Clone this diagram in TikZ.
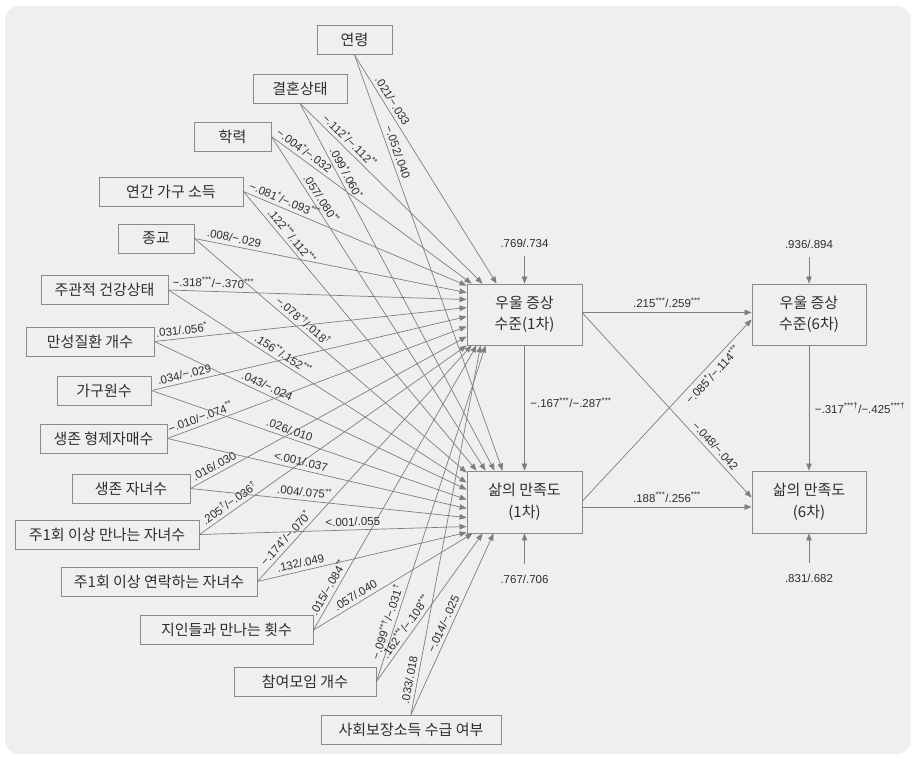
\documentclass[tikz,border=0pt]{standalone}
\usepackage{fontspec}
\setmainfont{Liberation Sans}
\newfontfamily\kr{Noto Sans CJK KR}
\usetikzlibrary{arrows.meta}

\definecolor{bggray}{HTML}{EFEFEF}
\definecolor{boxline}{HTML}{8A8A8A}
\definecolor{linegray}{HTML}{7E7E7E}
\definecolor{txt}{HTML}{2E2E2E}

\newcommand{\sig}[1]{\textsuperscript{#1}}

\tikzset{
  varbox/.style={draw=boxline, line width=0.9pt, text=txt, font=\kr\fontsize{15}{21.5}\selectfont,
    minimum height=29pt, inner sep=2pt, align=center},
  coef/.style={text=txt, font=\fontsize{11.5}{13}\selectfont, inner sep=1.5pt},
  arr/.style={draw=linegray, line width=0.7pt, -{Triangle[length=7pt,width=5.5pt]}}
}

\begin{document}
\begin{tikzpicture}[x=1pt, y=-1pt]
% Background
\useasboundingbox (0,0) rectangle (916,758);
\fill[bggray, rounded corners=14pt] (5,6) rectangle (911,754);

% Predictors
\node[varbox, minimum width=75pt] (age) at (354.5,40) {연령};
\node[varbox, minimum width=94pt] (marry) at (300,88.5) {결혼상태};
\node[varbox, minimum width=77pt] (edu) at (232.5,136.5) {학력};
\node[varbox, minimum width=144pt] (income) at (171,191.5) {연간 가구 소득};
\node[varbox, minimum width=76pt] (relig) at (156,238.5) {종교};
\node[varbox, minimum width=127pt] (health) at (104.5,290) {주관적 건강상태};
\node[varbox, minimum width=128pt] (chronic) at (90,341.5) {만성질환 개수};
\node[varbox, minimum width=94pt] (house) at (104,390.5) {가구원수};
\node[varbox, minimum width=127pt] (sibl) at (103.5,438.5) {생존 형제자매수};
\node[varbox, minimum width=118pt] (child) at (131,488.5) {생존 자녀수};
\node[varbox, minimum width=184pt] (meetch) at (107,534.5) {주1회 이상 만나는 자녀수};
\node[varbox, minimum width=196pt] (contch) at (159,581.5) {주1회 이상 연락하는 자녀수};
\node[varbox, minimum width=173pt] (friend) at (226.5,630) {지인들과 만나는 횟수};
\node[varbox, minimum width=142pt] (club) at (305,681.5) {참여모임 개수};
\node[varbox, minimum width=180pt] (socsec) at (411,729.5) {사회보장소득 수급 여부};

% Outcomes
\node[varbox, minimum width=115pt, minimum height=61pt] (dep1) at (524.5,314.5) {우울 증상\\수준(1차)};
\node[varbox, minimum width=114pt, minimum height=61pt] (dep6) at (809,314.5) {우울 증상\\수준(6차)};
\node[varbox, minimum width=115pt, minimum height=62pt] (sat1) at (524.5,502) {삶의 만족도\\(1차)};
\node[varbox, minimum width=114pt, minimum height=62pt] (sat6) at (809,502) {삶의 만족도\\(6차)};

% Error terms
\node[coef] (e1) at (524.5,243) {.769/.734};
\node[coef] (e2) at (809,244) {.936/.894};
\node[coef] (e3) at (524.5,579) {.767/.706};
\node[coef] (e4) at (809,578) {.831/.682};
\draw[arr, shorten <=7pt] (e1) -- (dep1);
\draw[arr, shorten <=7pt] (e2) -- (dep6);
\draw[arr, shorten <=9pt] (e3) -- (sat1);
\draw[arr, shorten <=9pt] (e4) -- (sat6);

% Paths to depression (1)
\draw[arr] (age.south) -- ([xshift=30pt]dep1.north west) node[coef, sloped, above=2pt, pos=0.22] {.021/−.033};
\draw[arr] (marry.south) -- ([xshift=16pt]dep1.north west) node[coef, sloped, above=2pt, pos=0.24] {−.112\sig{*}/−.112\sig{**}};
\draw[arr] (edu.east) -- ([xshift=5pt]dep1.north west) node[coef, sloped, above=2pt, pos=0.14] {−.004\sig{*}/−.032};
\draw[arr] (income.east) -- ([yshift=-2pt]dep1.north west) node[coef, sloped, above=2pt, pos=0.17] {−.081\sig{*}/−.093\sig{***}};
\draw[arr] (relig.east) -- ([yshift=-9pt]dep1.north west) node[coef, sloped, above=2pt, pos=0.14] {.008/−.029};
\draw[arr] (health.east) -- ([yshift=-16pt]dep1.north west) node[coef, sloped, above=2pt, pos=0.15] {−.318\sig{***}/−.370\sig{***}};
\draw[arr] (chronic.east) -- ([yshift=-24pt]dep1.north west) node[coef, sloped, above=2pt, pos=0.09] {.031/.056\sig{*}};
\draw[arr] (house.east) -- ([yshift=-33pt]dep1.north west) node[coef, sloped, above=2pt, pos=0.11] {.034/−.029};
\draw[arr] (sibl.east) -- ([yshift=-43pt]dep1.north west) node[coef, sloped, above=2pt, pos=0.12] {−.010/−.074\sig{**}};
\draw[arr] (child.east) -- ([yshift=-53pt]dep1.north west) node[coef, sloped, above=2pt, pos=0.10] {.016/.030};
\draw[arr] (meetch.east) -- (dep1.south west) node[coef, sloped, above=2pt, pos=0.13] {.205\sig{†}/−.036\sig{†}};
\draw[arr] (contch.east) -- ([xshift=5pt]dep1.south west) node[coef, sloped, above=2pt, pos=0.16] {−.174\sig{*}/−.070\sig{*}};
\draw[arr] (friend.east) -- ([xshift=10pt]dep1.south west) node[coef, sloped, above=2pt, pos=0.134] {.015/−.084\sig{**}};
\draw[arr] (club.east) -- ([xshift=19pt]dep1.south west) node[coef, sloped, above=2pt, pos=0.17] {−.099\sig{**†}/−.031\sig{†}};
\draw[arr] (socsec.north) -- ([xshift=14pt]dep1.south west) node[coef, sloped, above=2pt, pos=0.09] {.033/.018};

% Paths to life satisfaction (1)
\draw[arr] (age.south) -- ([xshift=36pt]sat1.north west) node[coef, sloped, above=2pt, pos=0.24] {−.052/.040};
\draw[arr] (marry.south) -- ([xshift=28pt]sat1.north west) node[coef, sloped, above=2pt, pos=0.20] {.099\sig{*}/.060\sig{*}};
\draw[arr] (edu.east) -- ([xshift=19pt]sat1.north west) node[coef, sloped, above=2pt, pos=0.20] {.057/.080\sig{**}};
\draw[arr] (income.east) -- ([xshift=10pt]sat1.north west) node[coef, sloped, above=2pt, pos=0.18] {.122\sig{***}/.112\sig{***}};
\draw[arr] (relig.east) -- ([yshift=-2pt]sat1.north west) node[coef, sloped, above=2pt, pos=0.38] {−.078\sig{*†}/.018\sig{†}};
\draw[arr] (health.east) -- ([yshift=-12pt]sat1.north west) node[coef, sloped, above=2pt, pos=0.37] {.156\sig{**}/.152\sig{***}};
\draw[arr] (chronic.east) -- ([yshift=-19pt]sat1.north west) node[coef, sloped, above=2pt, pos=0.35] {.043/−.024};
\draw[arr] (house.east) -- ([yshift=-29pt]sat1.north west) node[coef, sloped, above=2pt, pos=0.43] {.026/.010};
\draw[arr] (sibl.east) -- ([yshift=-38pt]sat1.north west) node[coef, sloped, above=2pt, pos=0.44] {<.001/.037};
\draw[arr] (child.east) -- ([yshift=-47pt]sat1.north west) node[coef, sloped, above=2pt, pos=0.41] {.004/.075\sig{**}};
\draw[arr] (meetch.east) -- ([yshift=-56pt]sat1.north west) node[coef, sloped, above=2pt, pos=0.575] {<.001/.055};
\draw[arr] (contch.east) -- ([yshift=1pt]sat1.south west) node[coef, sloped, above=2pt, pos=0.215] {.132/.049};
\draw[arr] (friend.east) -- ([xshift=6pt]sat1.south west) node[coef, sloped, above=2pt, pos=0.29] {.057/.040};
\draw[arr] (club.east) -- ([xshift=16pt]sat1.south west) node[coef, sloped, above=2pt, pos=0.34] {.162\sig{***}/−.108\sig{***}};
\draw[arr] (socsec.north) -- ([xshift=27pt]sat1.south west) node[coef, sloped, above=2pt, pos=0.48] {−.014/−.025};

% Paths between outcomes
\draw[arr] ([yshift=2pt]dep1.east) -- ([yshift=2pt]dep6.west) node[coef, above=3pt, midway] {.215\sig{***}/.259\sig{***}};
\draw[arr] (dep1) -- (sat1) node[coef, right=4pt, pos=0.46] {−.167\sig{***}/−.287\sig{***}};
\draw[arr] ([yshift=-5pt]sat1.east) -- ([yshift=-5pt]sat6.west) node[coef, above=3pt, midway] {.188\sig{***}/.256\sig{***}};
\draw[arr] (dep6) -- (sat6) node[coef, right=4pt, pos=0.5] {−.317\sig{***†}/−.425\sig{***†}};
\draw[arr] ([yshift=1.5pt]dep1.east) -- ([yshift=4.5pt]sat6.west) node[coef, sloped, above=2pt, pos=0.75] {−.048/−.042};
\draw[arr] ([yshift=1pt]sat1.east) -- ([yshift=-5pt]dep6.west) node[coef, sloped, below=2pt, pos=0.73] {−.085\sig{*}/−.114\sig{***}};
\end{tikzpicture}
\end{document}
